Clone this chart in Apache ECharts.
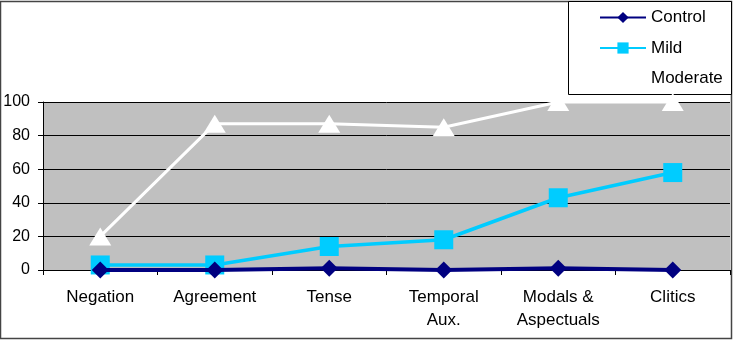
<!DOCTYPE html>
<html>
<head>
<meta charset="utf-8">
<script src="https://cdn.jsdelivr.net/npm/echarts@6/dist/echarts.min.js"></script>
<style>
  html, body { margin: 0; padding: 0; background: #fff; }
  #chart { width: 734px; height: 340px; }
</style>
</head>
<body>
<div id="chart"></div>
<script>
const categories = ['Negation', 'Agreement', 'Tense', 'Temporal\nAux.', 'Modals &\nAspectuals', 'Clitics']
const control = [0, 0, 1, 0, 1, 0]
const mild = [3, 3, 14, 18, 43, 58]
const moderate = [20, 87, 87, 85, 100, 100]
const yTicks = [0, 20, 40, 60, 80, 100]

const chart = echarts.init(document.getElementById('chart'))

const font = 'Liberation Sans, Arial, sans-serif'

const option = {
  backgroundColor: '#fff',
  animation: false,
  textStyle: { fontFamily: font },
  grid: {
    left: 43,
    right: 4,
    top: 102,
    bottom: 70,
    show: true,
    backgroundColor: '#c0c0c0',
    borderWidth: 0
  },
  legend: {
    left: 594,
    top: 4,
    orient: 'vertical',
    itemGap: 13.5,
    itemWidth: 46,
    itemHeight: 14,
    textStyle: { color: '#000', fontSize: 17, fontFamily: font },
    data: ['Control', 'Mild', 'Moderate']
  },
  xAxis: {
    type: 'category',
    data: categories,
    boundaryGap: true,
    axisLine: { lineStyle: { color: '#000', width: 1 } },
    axisTick: { show: true, length: 5, lineStyle: { color: '#000' } },
    axisLabel: { color: '#000', fontSize: 17, lineHeight: 23, margin: 16, fontFamily: font, interval: 0 },
    splitLine: { show: false }
  },
  yAxis: {
    type: 'value',
    min: 0,
    max: 100,
    interval: 20,
    axisLine: { show: true, lineStyle: { color: '#000' } },
    axisTick: { show: true, length: 5, lineStyle: { color: '#000' } },
    axisLabel: {
      color: '#000', fontSize: 16, margin: 13, fontFamily: font,
      formatter: v => yTicks.includes(v) ? String(v) : ''
    },
    splitLine: { show: true, lineStyle: { color: '#000', width: 1 } }
  },
  graphic: [
    {
      type: 'rect',
      shape: { x: 0.5, y: 1.5, width: 731, height: 337 },
      style: { fill: 'none', stroke: '#444', lineWidth: 1.5 },
      z: -1
    },
    {
      type: 'rect',
      shape: { x: 568.5, y: 1.5, width: 163, height: 93 },
      style: { fill: '#fff', stroke: '#000', lineWidth: 1 },
      z: 0
    }
  ],
  series: [
    {
      name: 'Moderate',
      type: 'line',
      data: moderate,
      symbol: 'triangle',
      symbolSize: [22, 18],
      lineStyle: { color: '#fff', width: 3 },
      itemStyle: { color: '#fff' },
      z: 3
    },
    {
      name: 'Mild',
      type: 'line',
      data: mild,
      symbol: 'rect',
      symbolSize: 19,
      lineStyle: { color: '#00ccff', width: 3.5 },
      itemStyle: { color: '#00ccff' },
      z: 4
    },
    {
      name: 'Control',
      type: 'line',
      data: control,
      symbol: 'diamond',
      symbolSize: 17,
      lineStyle: { color: '#000080', width: 4 },
      itemStyle: { color: '#000080' },
      z: 5
    }
  ]
}

chart.setOption(option)
</script>
</body>
</html>
